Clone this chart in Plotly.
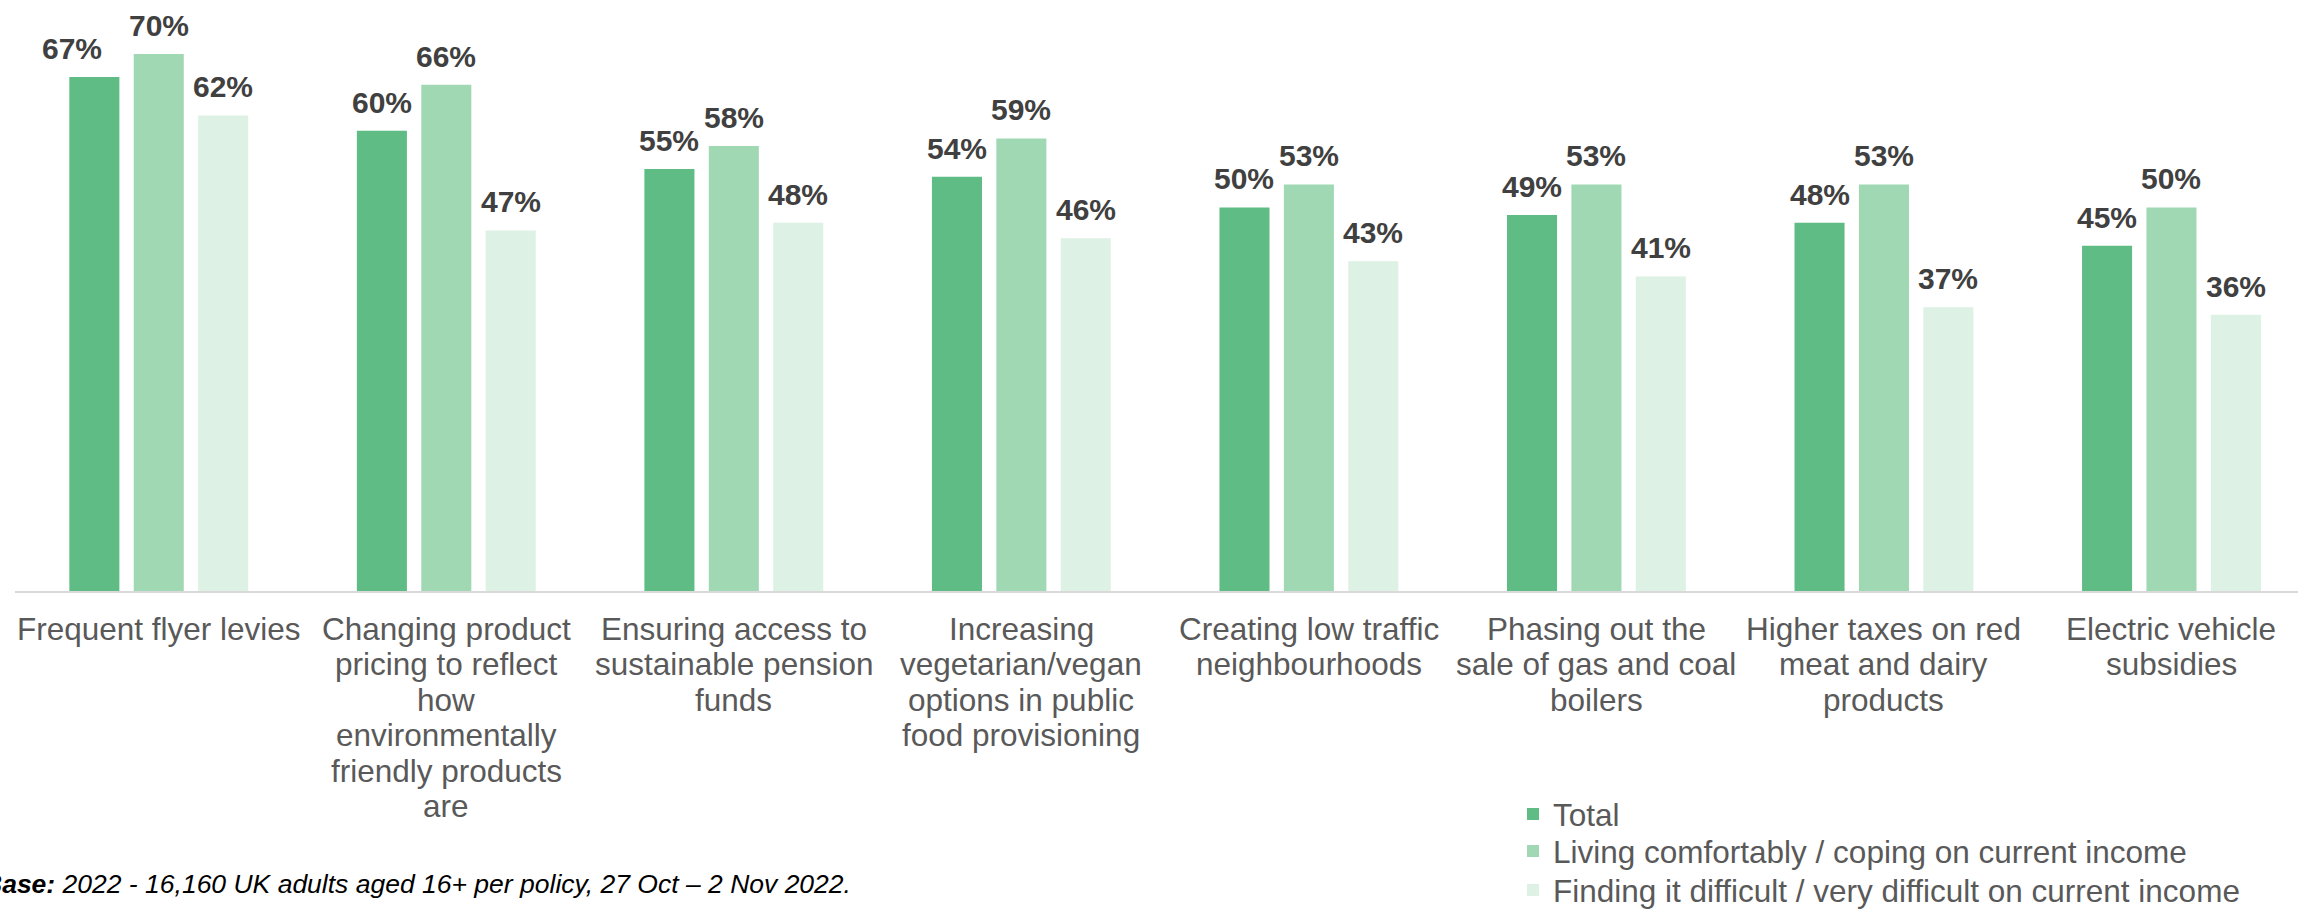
import plotly.graph_objects as go

# Policy support by financial situation (% supporting each policy)
categories = [
    "Frequent flyer levies",
    "Changing product<br>pricing to reflect<br>how<br>environmentally<br>friendly products<br>are",
    "Ensuring access to<br>sustainable pension<br>funds",
    "Increasing<br>vegetarian/vegan<br>options in public<br>food provisioning",
    "Creating low traffic<br>neighbourhoods",
    "Phasing out the<br>sale of gas and coal<br>boilers",
    "Higher taxes on red<br>meat and dairy<br>products",
    "Electric vehicle<br>subsidies",
]
series_names = [
    "Total",
    "Living comfortably / coping on current income",
    "Finding it difficult / very difficult on current income",
]
total = [67, 60, 55, 54, 50, 49, 48, 45]
comfortable = [70, 66, 58, 59, 53, 53, 53, 50]
difficult = [62, 47, 48, 46, 43, 41, 37, 36]
base_note = "<b>Base:</b> 2022 - 16,160 UK adults aged 16+ per policy, 27 Oct – 2 Nov 2022."

colors = ["#5EBC84", "#A0D8B4", "#DDF1E4"]
FONT = "Liberation Sans, Arial, sans-serif"
BARGAP = 0.328
BARGROUPGAP = 0.223

W, H = 2298, 909
M_L, M_R, M_T, M_B = 15, 0, 8, 318
plot_h = H - M_T - M_B
plot_w = W - M_L - M_R
x_max = 7.44

fig = go.Figure()
all_series = [total, comfortable, difficult]
legend_ids = ["legend", "legend2", "legend3"]
x_idx = list(range(len(categories)))
for name, vals, col, lg in zip(series_names, all_series, colors, legend_ids):
    fig.add_trace(go.Bar(
        x=x_idx, y=vals, name=name, legend=lg,
        marker=dict(color=col, line=dict(width=0)),
        hoverinfo="skip",
    ))

annotations = []
# value labels above each bar, positioned on the same grouped-bar slots;
# the first Total label is nudged left to clear its taller neighbour
label_nudge = {(0, 0): -22}
slot = (1 - BARGAP) / len(all_series)
for j, vals in enumerate(all_series):
    off = (j - (len(all_series) - 1) / 2) * slot
    for i, v in enumerate(vals):
        annotations.append(dict(
            x=i + off, y=v, xref="x", yref="y", text=f"{v}%",
            showarrow=False, yanchor="bottom", xanchor="center",
            yshift=10, xshift=label_nudge.get((j, i), 0),
            font=dict(family=FONT, size=30, color="#404040", weight="bold"),
        ))

# category labels, one annotation per line for tighter line spacing
LINE_PITCH = 35.5
FIRST_LINE = 37.5
for i, lab in enumerate(categories):
    for k, line in enumerate(lab.split("<br>")):
        annotations.append(dict(
            x=i, y=0, xref="x", yref="y", text=line, showarrow=False,
            yanchor="middle", xanchor="center",
            yshift=-(FIRST_LINE + k * LINE_PITCH),
            font=dict(family=FONT, size=31.5, color="#595959"),
        ))

# base note, partly running off the left edge
annotations.append(dict(
    x=(-19 - M_L) / plot_w, y=(-(884 - (H - M_B))) / plot_h,
    xref="paper", yref="paper", text=f"<i>{base_note}</i>",
    showarrow=False, xanchor="left", yanchor="middle",
    font=dict(family=FONT, size=26.5, color="#000000"),
))

# one single-entry legend per series, stacked in the lower right
legend_rows = [814, 851, 890]
legend_style = dict(
    xref="container", yref="container", xanchor="left", yanchor="middle",
    font=dict(family=FONT, size=31.5, color="#595959"),
    bgcolor="rgba(0,0,0,0)", borderwidth=0, itemwidth=30,
)
legends = {
    lg: dict(x=1513 / W, y=1 - row / H, **legend_style)
    for lg, row in zip(legend_ids, legend_rows)
}

fig.update_layout(
    width=W, height=H,
    margin=dict(l=M_L, r=M_R, t=M_T, b=M_B, pad=0, autoexpand=False),
    paper_bgcolor="white", plot_bgcolor="white",
    barmode="group", bargap=BARGAP, bargroupgap=BARGROUPGAP,
    showlegend=True,
    xaxis=dict(
        range=[-0.5, x_max], showticklabels=False, ticks="",
        showgrid=False, zeroline=False,
        showline=True, linecolor="#D9D9D9", linewidth=2,
    ),
    yaxis=dict(range=[0, 76], visible=False, showgrid=False, zeroline=False),
    annotations=annotations,
    **legends,
)

fig.write_html("out.html")
